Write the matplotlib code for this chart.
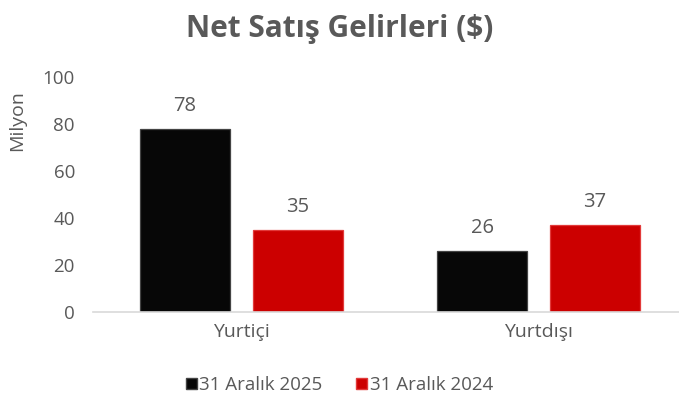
import matplotlib.pyplot as plt
import numpy as np
from matplotlib.patches import Patch

categories = ['Yurtiçi', 'Yurtdışı']
series_names = ['31 Aralık 2025', '31 Aralık 2024']
values_2025 = [78, 26]
values_2024 = [35, 37]

GRAY = '#595959'
BLACK = '#070707'
RED = '#cc0000'

plt.rcParams['font.family'] = ['Open Sans', 'DejaVu Sans']

fig = plt.figure(figsize=(6.79, 4.0), dpi=100)
ax = fig.add_axes([0.137, 0.22, 0.875, 0.5875])

x = np.arange(len(categories))
width = 0.305
offset = 0.19

bars1 = ax.bar(x - offset, values_2025, width, color=BLACK, edgecolor='#444444', linewidth=0.9)
bars2 = ax.bar(x + offset, values_2024, width, color=RED, edgecolor='#e23a3a', linewidth=0.9)

# value labels above each bar
for bars in (bars1, bars2):
    for b in bars:
        ax.text(b.get_x() + b.get_width() / 2, b.get_height() + 5.5, f'{b.get_height():.0f}',
                ha='center', va='bottom', fontsize=14.5, color=GRAY)

ax.set_xlim(-0.5, 1.5)
ax.set_ylim(0, 100)
ax.set_yticks(range(0, 101, 20))
ax.set_xticks(x)
ax.set_xticklabels(categories)
ax.tick_params(axis='y', length=0, labelsize=13.5, labelcolor=GRAY, pad=13)
ax.tick_params(axis='x', length=0, labelsize=14, labelcolor=GRAY, pad=8)

for s in ('top', 'right', 'left'):
    ax.spines[s].set_visible(False)
ax.spines['bottom'].set_color('#d9d9d9')
ax.spines['bottom'].set_linewidth(1.2)

ax.set_ylabel('Milyon', fontsize=14, color=GRAY)
ax.yaxis.set_label_coords(-0.113, 0.815)

fig.suptitle('Net Satış Gelirleri ($)', fontsize=21.5, fontweight='bold', color=GRAY, y=0.965)

handles = [Patch(facecolor=BLACK, edgecolor='#444444'), Patch(facecolor=RED, edgecolor='#e23a3a')]
fig.legend(handles, series_names, loc='center', bbox_to_anchor=(0.5, 0.037), ncol=2, frameon=False,
           fontsize=13.5, labelcolor=GRAY, handlelength=0.55, handleheight=0.55, handletextpad=0.15,
           columnspacing=1.8)

fig.savefig('out.png', dpi=100)
